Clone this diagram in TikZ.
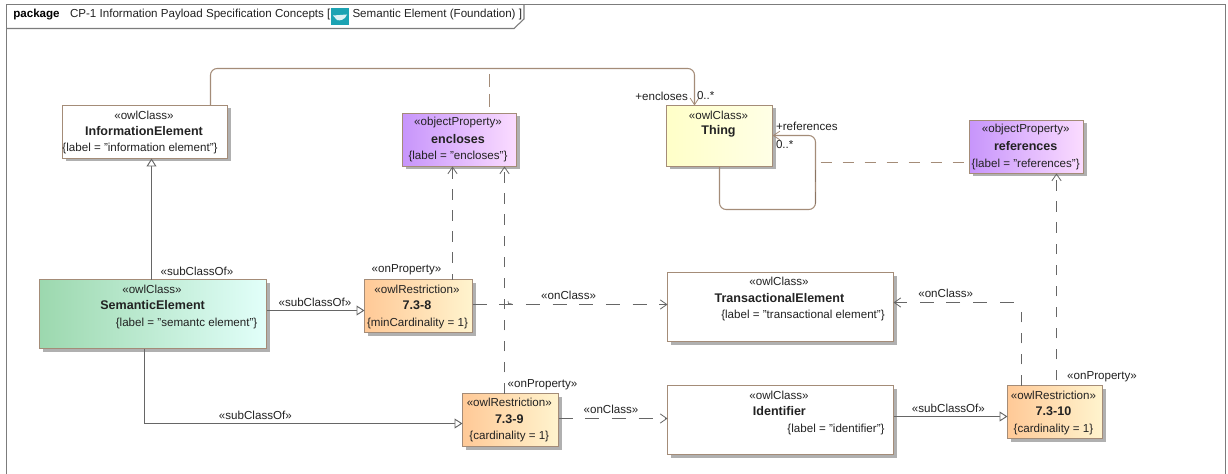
\documentclass[tikz,border=0pt]{standalone}
\usepackage{fontspec}
\setmainfont{Liberation Sans}
\usetikzlibrary{arrows.meta}
\definecolor{bord}{HTML}{A48C78}
\definecolor{bordark}{HTML}{8A7462}
\definecolor{shad}{HTML}{B0B0B0}
\definecolor{gline}{HTML}{666666}
\definecolor{frm}{HTML}{7C7C7C}
\definecolor{txt}{HTML}{222222}
\definecolor{purpA}{HTML}{C795FB}
\definecolor{purpB}{HTML}{FBDCFF}
\definecolor{yelA}{HTML}{FFFFC8}
\definecolor{yelB}{HTML}{FFFFE6}
\definecolor{greenA}{HTML}{9CD8AE}
\definecolor{greenB}{HTML}{E2FFFA}
\definecolor{oranA}{HTML}{FFC997}
\definecolor{oranB}{HTML}{FFF4CE}
\definecolor{iconc}{HTML}{1CA3B3}
\tikzset{
  x=0.75pt,y=-0.75pt,
  umlbox/.style={draw=bord,line width=0.8pt,inner sep=0pt,outer sep=0pt,rectangle},
  plainfill/.style={fill=white},
  propfill/.style={left color=purpA,right color=purpB},
  thingfill/.style={left color=yelA,right color=yelB},
  semfill/.style={left color=greenA,right color=greenB},
  restfill/.style={left color=oranA,right color=oranB},
  lbl/.style={inner sep=0pt,outer sep=0pt,font=\fontsize{8.7}{10}\selectfont,text=txt},
  namelbl/.style={inner sep=0pt,outer sep=0pt,font=\fontsize{9.4}{11}\selectfont\bfseries,text=txt},
  gen/.style={draw=gline,line width=0.8pt,-{Triangle[open,fill=white,length=6pt,width=7.5pt,line width=0.7pt]}},
  depline/.style={draw=gline,line width=0.8pt},
  depv/.style={depline,dash pattern=on 7.9pt off 7.9pt},
  deph/.style={depline,dash pattern=on 10.5pt off 9.5pt},
  barb/.style={-{Straight Barb[length=5pt,width=7pt,line width=0.6pt]}},
  assoc/.style={draw=bord,line width=0.8pt,rounded corners=5pt},
  assocarrow/.style={assoc,-{Straight Barb[length=5pt,width=6.5pt,line width=0.6pt]}},
  assocdash/.style={draw=bord,line width=0.8pt,dash pattern=on 8.5pt off 8pt},
}
\newcommand{\umlnode}[6]{%
  \fill[shad] (#2+3,#3+3) rectangle (#4+3,#5+3);
  \pgfmathsetmacro{\bw}{(#4-#2)*0.75}
  \pgfmathsetmacro{\bh}{(#5-#3)*0.75}
  \node[umlbox,#6,minimum width=\bw pt,minimum height=\bh pt] (#1) at ({(#2+#4)/2},{(#3+#5)/2}) {};
}
\begin{document}
\begin{tikzpicture}
\useasboundingbox (0,0) rectangle (1228,474);
\fill[white] (0,0) rectangle (1228,474);
% frame
\draw[draw=frm,line width=1pt] (6.5,480) -- (6.5,4.5) -- (1225.5,4.5) -- (1225.5,480);
\draw[draw=frm,line width=0.8pt] (6.5,28.5) -- (514,28.5) -- (524,19) -- (524,4.5);
\node[anchor=west,inner sep=0pt,font=\fontsize{8.7}{10}\selectfont\bfseries,text=black] (pkg) at (13,14.7) {package};
\node[anchor=west,lbl] (title1) at (70,14.7) {CP-1 Information Payload Specification Concepts [};
\fill[iconc] (331,8) rectangle (349,25);
\fill[white!85!iconc] (333,15.5) -- (347,14.5) .. controls (345,20) and (340,21) .. (337,20) -- cycle;
\node[anchor=west,lbl] (title2) at (352.5,14.7) {Semantic Element (Foundation) ]};
% boxes
\umlnode{info}{62.5}{105.5}{227.5}{158.5}{plainfill}
\umlnode{encl}{402.5}{113.5}{516.5}{166.5}{propfill}
\umlnode{thing}{666.5}{105.5}{772.5}{166.5}{thingfill}
\umlnode{refs}{969.5}{120.5}{1083.5}{173.5}{propfill}
\umlnode{sem}{39.5}{279.5}{266.5}{348.5}{semfill}
\umlnode{rA}{364.5}{279.5}{472.5}{332.5}{restfill}
\umlnode{rB}{462.5}{393.5}{558.5}{446.5}{restfill}
\umlnode{trans}{667.5}{272.5}{893.5}{341.5}{plainfill}
\umlnode{ident}{667.5}{385.5}{893.5}{454.5}{plainfill}
\umlnode{rC}{1007.5}{385.5}{1102.5}{438.5}{restfill}
% connectors
\coordinate (topA) at (210.5,68.5);
\coordinate (topB) at (694.5,68.5);
\draw[assocarrow] (210.5,0 |- info.north) -- (topA) -- (topB) -- (694.5,0 |- thing.north);
\coordinate (linkEnd) at (489.5,107);
\draw[draw=bord,line width=0.8pt,dash pattern=on 9.75pt off 5.25pt] (489.5,74) -- (linkEnd);
\draw[gen] (151.5,0 |- sem.north) -- (151.5,0 |- info.south);
\draw[gen] (sem.east |- 0,310.5) -- (rA.west |- 0,310.5);
\coordinate (bend) at (144.5,423.5);
\draw[gen] (144.5,0 |- sem.south) -- (bend) -- (rB.west |- bend);
\draw[depv,dash phase=3.4pt,barb] (452.5,0 |- rA.north) -- (452.5,0 |- encl.south);
\draw[depv,barb] (504.5,0 |- rB.north) -- (504.5,0 |- encl.south);
\draw[deph,barb] (rA.east |- 0,304.5) -- (trans.west |- 0,304.5);
\draw[draw=gline,line width=0.5pt] (508,301) -- (508.5,303.5) -- (512,304);
\draw[deph,barb] (rB.east |- 0,418.5) -- (ident.west |- 0,418.5);
\draw[gen] (ident.east |- 0,416.5) -- (rC.west |- 0,416.5);
\coordinate (cornerC) at (1021.5,302.5);
\coordinate (cornerD) at (1013.5,302.5);
\draw[depv] (1021.5,0 |- rC.north) -- (1021.5,306);
\draw[deph,barb] (cornerD) -- (trans.east |- cornerD);
\draw[depv,dash phase=12pt,barb] (1056.5,0 |- rC.north) -- (1056.5,0 |- refs.south);
\coordinate (loopA) at (719.5,209.5);
\coordinate (loopB) at (815.5,209.5);
\coordinate (loopC) at (815.5,135.5);
\draw[assocarrow] (719.5,0 |- thing.south) -- (loopA) -- (loopB) -- (loopC) -- (thing.east |- loopC);
\draw[draw=bordark,line width=0.8pt,dash pattern=on 9pt off 7.5pt] (815.5,170) -- (815.5,207);
\draw[assocdash] (820.5,162.5) -- (refs.west |- 0,162.5);
% texts
\node[lbl] (t1) at (144,115) {«owlClass»};
\node[namelbl] (t2) at (144,131) {InformationElement};
\node[lbl] (t3) at (140,149) {\{label = "information element"\}};
\node[lbl] (t4) at (458,123) {«objectProperty»};
\node[namelbl] (t5) at (458,139) {encloses};
\node[lbl] (t6) at (458,157) {\{label = "encloses"\}};
\node[lbl] (t7) at (718.5,115) {«owlClass»};
\node[namelbl] (t8) at (718.5,131) {Thing};
\node[lbl,anchor=east] (t9) at (688,96) {+encloses};
\node[lbl,anchor=west] (t10) at (697,96) {0..*};
\node[lbl,anchor=west] (t11) at (776,126) {+references};
\node[lbl,anchor=west] (t12) at (776,145) {0..*};
\node[lbl] (t13) at (1025.7,130) {«objectProperty»};
\node[namelbl] (t14) at (1025.7,146) {references};
\node[lbl] (t15) at (1025.7,164.3) {\{label = "references"\}};
\node[lbl] (t16) at (152,289) {«owlClass»};
\node[namelbl] (t17) at (152.6,305) {SemanticElement};
\node[lbl] (t18) at (186.6,323) {\{label = "semantc element"\}};
\node[lbl] (t19) at (197,271) {«subClassOf»};
\node[lbl] (t20) at (315,302) {«subClassOf»};
\node[lbl] (t21) at (406.5,270) {«onProperty»};
\node[lbl] (t22) at (417,289) {«owlRestriction»};
\node[namelbl] (t23) at (417,305) {7.3-8};
\node[lbl] (t24) at (417.5,323) {\{minCardinality = 1\}};
\node[lbl] (t25) at (568.6,295) {«onClass»};
\node[lbl] (t26) at (542.5,384.7) {«onProperty»};
\node[lbl] (t27) at (509.3,402.7) {«owlRestriction»};
\node[namelbl] (t28) at (509.3,418.7) {7.3-9};
\node[lbl] (t29) at (509.3,436.7) {\{cardinality = 1\}};
\node[lbl] (t30) at (255.4,415) {«subClassOf»};
\node[lbl] (t31) at (611,409) {«onClass»};
\node[lbl] (t32) at (779,281.7) {«owlClass»};
\node[namelbl] (t33) at (779.4,297.7) {TransactionalElement};
\node[lbl] (t34) at (803,315.7) {\{label = "transactional element"\}};
\node[lbl] (t35) at (945.7,293.7) {«onClass»};
\node[lbl] (t36) at (779,395.3) {«owlClass»};
\node[namelbl] (t37) at (779.4,411) {Identifier};
\node[lbl] (t38) at (836,429.3) {\{label = "identifier"\}};
\node[lbl] (t39) at (948.4,408.7) {«subClassOf»};
\node[lbl] (t40) at (1102,377) {«onProperty»};
\node[lbl] (t41) at (1053.5,395.3) {«owlRestriction»};
\node[namelbl] (t42) at (1053.5,411) {7.3-10};
\node[lbl] (t43) at (1053.5,429) {\{cardinality = 1\}};
\end{tikzpicture}
\end{document}
